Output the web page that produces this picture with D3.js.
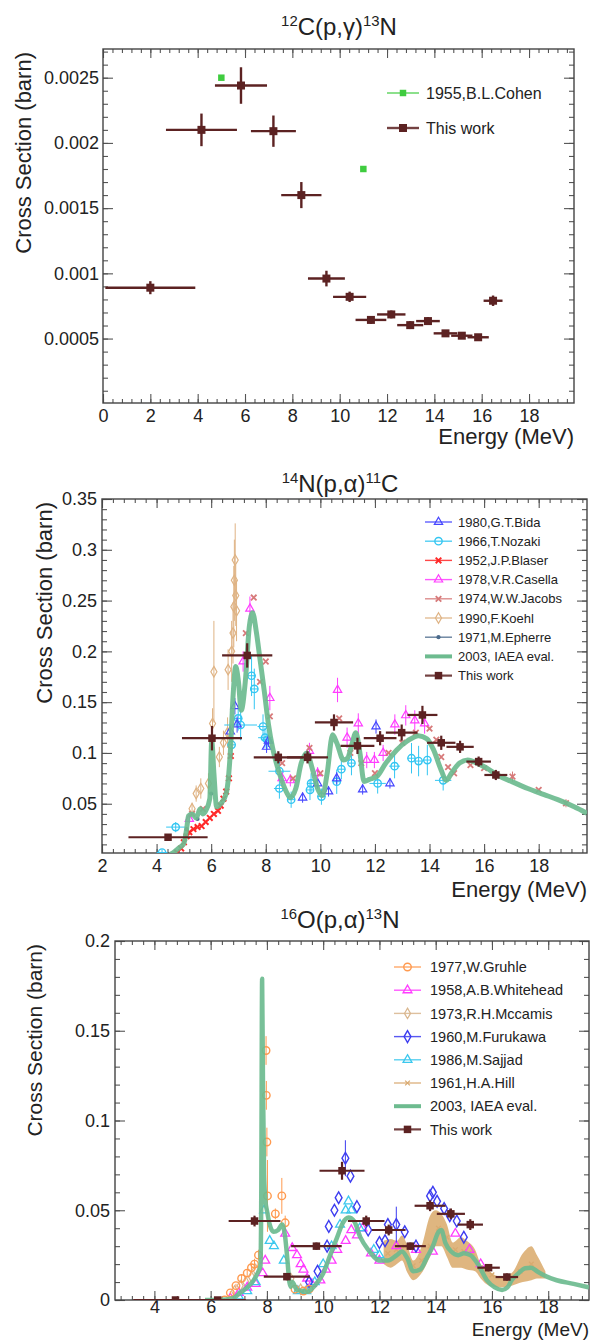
<!DOCTYPE html>
<html><head><meta charset="utf-8">
<script src="https://cdn.jsdelivr.net/npm/d3@7"></script>
<style>body{margin:0;background:#fff}svg{display:block}</style>
</head><body><svg id="c" width="590" height="1340"></svg>
<script>
// ---------------- DATA ----------------
// Panel 1: 12C(p,g)13N   [E, sigma, dE, dsigma]
const p1XTicks = [0,2,4,6,8,10,12,14,16,18];
const p1YTicks = [0.0005,0.001,0.0015,0.002,0.0025];
const p1Cohen = [[5.0,0.0025],[11.0,0.0018]];
const p1Work = [
 [2.0,0.00089,1.9,0.00005],[4.16,0.0021,1.5,0.000125],[5.83,0.00244,1.1,0.00014],
 [7.2,0.00209,0.95,0.00012],[8.38,0.0016,0.85,0.0001],[9.44,0.00096,0.78,0.00006],
 [10.42,0.00082,0.7,0.00004],[11.32,0.000643,0.65,0.00003],[12.18,0.000685,0.6,0.00003],
 [12.98,0.000603,0.55,0.00003],[13.73,0.000634,0.5,0.00003],[14.47,0.00054,0.5,0.00002],
 [15.16,0.000522,0.45,0.00002],[15.85,0.00051,0.45,0.00002],[16.48,0.00079,0.4,0.00004]];

// Panel 2: 14N(p,a)11C
const p2XTicks = [2,4,6,8,10,12,14,16,18];
const p2YTicks = [0.05,0.1,0.15,0.2,0.25,0.3,0.35];
const p2Bida = [[6.7,0.121,0,0.006],[6.87,0.146,0,0.008],[6.95,0.128,0,0.008],[8.03,0.106,0,0.006],[8.1,0.112,0,0.006],
 [9.35,0.056,0,0.005],[9.9,0.07,0,0.005],[10.3,0.062,0,0.005],[10.6,0.075,0,0.006],[11.55,0.064,0,0.005],
 [12.04,0.126,0,0.007],[12.55,0.07,0,0.005]];
const p2Nozaki = [[4.2,0.002,0.2,0.003],[4.7,0.027,0.35,0.005],[6.75,0.108,0.15,0.01],[6.99,0.134,0.15,0.012],
 [7.08,0.1275,0.6,0.015],[7.48,0.176,0.15,0.02],[7.58,0.163,0.15,0.02],[7.9,0.126,0.2,0.012],[7.97,0.115,0.25,0.01],
 [8.05,0.113,0.2,0.01],[8.5,0.082,0.4,0.01],[8.5,0.065,0.2,0.01],[8.93,0.054,0.15,0.008],[9.62,0.0636,0.15,0.01],
 [9.66,0.07,0.15,0.01],[10.04,0.057,0.15,0.008],[10.6,0.0717,0.15,0.012],[10.77,0.084,0.15,0.01],
 [11.14,0.09,0.15,0.012],[12.1,0.07,0.3,0.01],[12.72,0.087,0.2,0.012],[13.34,0.0948,0.15,0.015],
 [13.6,0.092,0.15,0.015],[13.92,0.093,0.15,0.015],[14.5,0.073,0.3,0.01]];
const p2Blaser = [[4.75,0.002],[4.9,0.006],[5.0,0.012],[5.1,0.018],[5.2,0.022],[5.35,0.025],[5.5,0.027],
 [5.65,0.028],[5.8,0.032],[5.95,0.036],[6.1,0.04],[6.25,0.043],[6.35,0.048],[6.45,0.055],[6.55,0.062],
 [6.65,0.075],[6.72,0.097]];
const p2Casella = [[5.2,0.035,0,0.004],[7.17,0.19,0,0.01],[7.42,0.242,0,0.012],[8.15,0.154,0,0.012],
 [8.6,0.075,0,0.006],[8.9,0.073,0,0.006],[9.6,0.102,0,0.008],[9.9,0.08,0,0.006],[10.63,0.162,0,0.012],
 [10.98,0.115,0,0.01],[11.39,0.129,0,0.01],[11.7,0.093,0,0.008],[11.98,0.093,0,0.008],[12.3,0.1,0,0.008],
 [12.73,0.128,0,0.01],[13.13,0.137,0,0.01],[13.46,0.132,0,0.01],[13.82,0.129,0,0.01]];
const p2Jacobs = [[5.3,0.04],[5.7,0.045],[7.27,0.218],[7.56,0.253],[7.79,0.17],[8.0,0.19],[8.15,0.136],
 [8.6,0.09],[9.0,0.075],[9.6,0.105],[10.0,0.08],[10.69,0.134],[11.1,0.1],[11.5,0.09],[12.0,0.08],
 [12.5,0.1],[13.0,0.11],[13.5,0.12],[14.0,0.124],[14.25,0.113],[14.43,0.096],[14.68,0.086],[14.9,0.08],
 [15.5,0.088],[16.0,0.085],[17.04,0.0767,0,0.005],[18.0,0.0636],[19.0,0.0505,0,0.004]];
const p2Koehl = [[5.3,0.045,0,0.006],[5.45,0.06,0,0.008],[5.62,0.065,0,0.01],[5.9,0.07,0,0.01],
 [6.05,0.129,0,0.015],[6.1,0.18,0,0.05],[6.3,0.096,0,0.01],[6.45,0.11,0,0.012],[6.6,0.12,0,0.015],
 [6.62,0.182,0,0.02],[6.75,0.2,0,0.03],[6.8,0.218,0,0.03],[6.83,0.244,0,0.04],[6.85,0.27,0,0.04],
 [6.88,0.29,0,0.036],[6.9,0.255,0,0.03],[6.93,0.24,0,0.03]];
const p2Epherre = [[5.1,0.025],[5.5,0.035],[6.0,0.06]];
const p2Iaea = [[4.5,0.0],[4.62,0.002],[4.8,0.006],[5.0,0.011],[5.1,0.025],[5.17,0.038],[5.3,0.04],
 [5.45,0.036],[5.6,0.045],[5.7,0.04],[5.8,0.043],[5.95,0.055],[6.02,0.112],[6.1,0.08],[6.2,0.047],
 [6.35,0.05],[6.55,0.06],[6.7,0.1],[6.8,0.155],[6.9,0.185],[7.0,0.17],[7.1,0.142],[7.25,0.17],[7.4,0.225],
 [7.52,0.238],[7.65,0.22],[7.8,0.19],[7.95,0.16],[8.1,0.128],[8.25,0.105],[8.5,0.08],[8.75,0.062],
 [8.9,0.056],[9.1,0.065],[9.3,0.09],[9.5,0.1],[9.7,0.085],[9.9,0.065],[10.08,0.058],[10.25,0.08],
 [10.45,0.118],[10.6,0.11],[10.85,0.093],[11.0,0.095],[11.15,0.108],[11.3,0.12],[11.45,0.1],[11.6,0.072],
 [11.8,0.074],[12.08,0.077],[12.4,0.09],[12.8,0.103],[13.2,0.112],[13.6,0.117],[13.9,0.114],[14.15,0.103],
 [14.4,0.085],[14.62,0.073],[14.8,0.08],[15.1,0.09],[15.4,0.093],[15.7,0.0905],[16.1,0.085],[16.5,0.078],
 [17.0,0.072],[17.6,0.065],[18.2,0.059],[18.7,0.054],[19.3,0.047],[19.77,0.0406]];
const p2Work = [[4.42,0.017,1.45,0.003],[6.03,0.1145,1.1,0.012],[7.32,0.196,0.92,0.012],
 [8.46,0.0957,0.9,0.006],[9.53,0.0957,0.75,0.006],[10.5,0.13,0.7,0.008],[11.36,0.107,0.62,0.008],
 [12.19,0.1145,0.6,0.007],[12.98,0.12,0.58,0.008],[13.74,0.1374,0.55,0.009],[14.43,0.11,0.52,0.007],
 [15.12,0.106,0.5,0.006],[15.8,0.0915,0.45,0.005],[16.43,0.0783,0.42,0.005]];

// Panel 3: 16O(p,a)13N
const p3XTicks = [4,6,8,10,12,14,16,18];
const p3YTicks = [0,0.05,0.1,0.15,0.2];
const p3Gruhle = [[6.5,0.0,0,0.001],[6.7,0.004,0,0.001],[6.9,0.008,0,0.001],[7.1,0.012,0,0.002],
 [7.3,0.015,0,0.002],[7.45,0.018,0,0.002],[7.56,0.02,0,0.003],[7.7,0.025,0,0.003],[7.97,0.139,0,0.008],
 [7.98,0.114,0,0.008],[8.0,0.088,0,0.008],[8.02,0.058,0,0.02],[8.3,0.048,0,0.003],[8.53,0.058,0,0.01],
 [8.65,0.043,0,0.004],[9.0,0.006,0,0.001],[9.3,0.005,0,0.001],[9.5,0.006,0,0.001]];
const p3Whitehead = [[6.7,0.001],[7.0,0.004],[7.3,0.007],[7.6,0.009],[7.85,0.015],[7.94,0.022],[8.65,0.037],
 [8.9,0.029],[9.07,0.025],[9.2,0.02],[9.3,0.017],[9.43,0.012],[9.6,0.009],[9.9,0.011],[10.1,0.017],
 [10.3,0.022],[10.5,0.028],[10.8,0.033],[11.0,0.039],[11.2,0.036],[11.4,0.04],[11.7,0.026],[12.0,0.022],
 [12.6,0.03],[13.3,0.028],[13.9,0.027],[14.7,0.037],[15.2,0.028],[15.6,0.02]];
const p3Mccamis = [[6.85,0.005],[7.05,0.008],[7.25,0.01],[7.45,0.013],[7.6,0.017],[8.85,0.012],[9.2,0.006]];
const p3Furukawa = [[9.5,0.01],[9.8,0.016],[10.14,0.03],[10.2,0.041],[10.4,0.05],[10.55,0.057],
 [10.79,0.079,0,0.01],[10.97,0.069],[11.2,0.052],[11.6,0.039],[12.0,0.032],[12.2,0.033],[12.3,0.042],
 [12.6,0.042,0,0.01],[12.9,0.038],[13.3,0.03],[13.8,0.058],[13.9,0.06],[14.05,0.055],[14.3,0.051],
 [14.5,0.047],[14.75,0.044],[15.0,0.035]];
const p3Sajjad = [[7.0,0.002],[7.3,0.005],[7.6,0.01],[7.9,0.05],[8.1,0.033],[8.25,0.03],[8.6,0.022],
 [9.1,0.005],[9.4,0.005],[9.7,0.01],[10.0,0.02],[10.3,0.03],[10.6,0.042],[10.8,0.05],[10.9,0.055],
 [11.0,0.05],[11.3,0.04],[11.8,0.028],[12.0,0.025]];
const p3Hill = [[12.3,0.026],[12.6,0.028],[12.9,0.03],[13.2,0.019],[13.5,0.022],[13.8,0.03],[14.1,0.04],
 [14.4,0.035],[14.7,0.028],[15.0,0.027],[15.3,0.026],[15.6,0.018],[16.0,0.014],[16.5,0.012],[17.0,0.016],
 [17.4,0.02],[17.8,0.014]];
const p3HillBand = [[12.15,0.02,0.033],[12.4,0.018,0.034],[12.62,0.02,0.033],[12.8,0.022,0.036],
 [13.0,0.015,0.03],[13.2,0.011,0.022],[13.5,0.015,0.03],[13.8,0.024,0.047],[14.0,0.03,0.05],
 [14.2,0.03,0.048],[14.4,0.024,0.042],[14.6,0.018,0.032],[14.9,0.018,0.035],[15.1,0.017,0.033],
 [15.4,0.016,0.028],[15.6,0.012,0.02],[15.9,0.008,0.016],[16.3,0.007,0.013],[16.7,0.008,0.015],
 [17.1,0.01,0.026],[17.4,0.011,0.03],[17.6,0.012,0.025],[17.9,0.012,0.016]];
const p3Iaea = [[5.8,0],[6.3,0],[6.8,0.001],[7.05,0.004],[7.3,0.007],[7.53,0.011],[7.7,0.016],[7.77,0.019],
 [7.8,0.06],[7.83,0.179],[7.86,0.12],[7.9,0.07],[7.95,0.055],[8.0,0.05],[8.1,0.042],[8.24,0.038],[8.4,0.039],
 [8.54,0.042],[8.65,0.035],[8.72,0.024],[8.8,0.01],[8.85,0.0074],[8.9,0.01],[9.07,0.0056],[9.25,0.005],
 [9.43,0.0046],[9.7,0.008],[10.0,0.0148],[10.25,0.025],[10.5,0.035],[10.7,0.043],[10.9,0.046],[11.1,0.044],
 [11.32,0.035],[11.6,0.028],[12.03,0.022],[12.3,0.022],[12.62,0.025],[12.8,0.027],[13.0,0.023],[13.2,0.016],
 [13.45,0.017],[13.7,0.024],[13.9,0.03],[14.1,0.038],[14.2,0.039],[14.34,0.032],[14.55,0.027],[14.8,0.025],
 [15.0,0.026],[15.23,0.025],[15.5,0.02],[15.82,0.011],[16.1,0.007],[16.36,0.0056],[16.55,0.007],[16.7,0.011],
 [16.95,0.015],[17.18,0.0177],[17.4,0.018],[17.6,0.016],[17.95,0.013],[18.3,0.011],[18.9,0.009],[19.45,0.007]];
const p3Work = [[4.75,0,1.5,0],[6.25,0,1.0,0],[7.56,0.044,0.92,0.003],[8.71,0.013,0.82,0.002],
 [9.76,0.03,0.9,0.002],[10.67,0.072,0.8,0.005],[11.53,0.044,0.65,0.003],[12.33,0.039,0.6,0.003],
 [13.1,0.03,0.55,0.002],[13.8,0.0525,0.55,0.003],[14.54,0.048,0.5,0.003],[15.23,0.042,0.45,0.003],
 [15.88,0.018,0.4,0.002],[16.53,0.0128,0.4,0.002]];

// ---------------- STYLE / DRAW ----------------
const FONT = "'Liberation Sans', Arial, Helvetica, sans-serif";
const WORK = "#5c2222", IAEA = "#6dbb8f";
const svg = d3.select("#c");
const defs = svg.append("defs");
const fmt = d3.format("~g");

const symMap = {square: d3.symbolSquare, circle: d3.symbolCircle, triangle: d3.symbolTriangle,
  diamond: d3.symbolDiamond, times: d3.symbolTimes || d3.symbolX};

function marker(g, st, cx, cy) {
  const p = g.append("path").attr("d", d3.symbol().type(symMap[st.shape]).size(st.size)())
    .attr("transform", `translate(${cx},${cy})`);
  if (st.open || st.shape === "times") p.attr("fill", "none").attr("stroke", st.color).attr("stroke-width", st.sw || 1.2);
  else p.attr("fill", st.color).attr("stroke", "none");
}

function drawSeries(g, x, y, data, st) {
  const eg = g.append("g").attr("stroke", st.color).attr("stroke-width", st.ew || 1).attr("opacity", st.op || 1);
  data.forEach(d => {
    const E = d[0], v = d[1], dE = d[2] || 0, dv = d[3] || 0;
    if (dE) eg.append("line").attr("x1", x(E - dE)).attr("x2", x(E + dE)).attr("y1", y(v)).attr("y2", y(v));
    if (dv) eg.append("line").attr("x1", x(E)).attr("x2", x(E)).attr("y1", y(v - dv)).attr("y2", y(v + dv));
  });
  const mg = g.append("g").attr("opacity", st.op || 1);
  data.forEach(d => marker(mg, st, x(d[0]), y(d[1])));
}

function drawCurve(g, x, y, data, w) {
  g.append("path").datum(data)
    .attr("d", d3.line().x(d => x(d[0])).y(d => y(d[1])).curve(d3.curveMonotoneX))
    .attr("fill", "none").attr("stroke", IAEA).attr("stroke-width", w).attr("stroke-opacity", 0.92)
    .attr("stroke-linejoin", "round");
}

function title(parts, cx, by, size) {
  const t = svg.append("text").attr("x", cx).attr("y", by).attr("text-anchor", "middle")
    .attr("font-family", FONT).attr("font-size", size).attr("fill", "#222");
  parts.forEach(p => {
    const s = t.append("tspan").text(p[0]);
    if (p[1]) s.attr("font-size", size * 0.62).attr("dy", -size * 0.38);
    else s.attr("dy", p[2] || 0);
  });
}

function drawPanel(c) {
  const x = d3.scaleLinear().domain(c.xd).range([c.L, c.R]);
  const y = d3.scaleLinear().domain(c.yd).range([c.B, c.T]);
  const g = svg.append("g");
  const xm = [], ym = [];
  for (let v = Math.ceil(c.xd[0] / c.xms - 1e-9) * c.xms; v <= c.xd[1] + 1e-9; v += c.xms) xm.push(+v.toFixed(6));
  for (let v = Math.ceil(c.yd[0] / c.yms - 1e-9) * c.yms; v <= c.yd[1] + 1e-12; v += c.yms) ym.push(+v.toFixed(7));
  function ax(fn, scale, tr, vals, size, lab, pad) {
    const a = fn(scale).tickValues(vals).tickSizeInner(-size).tickSizeOuter(0)
      .tickPadding(pad || 0).tickFormat(lab ? fmt : () => "");
    const s = g.append("g").attr("transform", tr).call(a);
    s.select(".domain").remove();
    s.selectAll("line").attr("stroke", "#555").attr("stroke-width", 1.1);
    s.selectAll("text").attr("font-family", FONT).attr("font-size", c.tf).attr("fill", "#222");
  }
  ax(d3.axisBottom, x, `translate(0,${c.B})`, xm, 4, false);
  ax(d3.axisBottom, x, `translate(0,${c.B})`, c.xt, 9, true, c.xpad);
  ax(d3.axisTop, x, `translate(0,${c.T})`, xm, 4, false);
  ax(d3.axisTop, x, `translate(0,${c.T})`, c.xt, 9, false);
  ax(d3.axisLeft, y, `translate(${c.L},0)`, ym, 5, false);
  ax(d3.axisLeft, y, `translate(${c.L},0)`, c.yt, 10, true, c.ypad);
  ax(d3.axisRight, y, `translate(${c.R},0)`, ym, 5, false);
  ax(d3.axisRight, y, `translate(${c.R},0)`, c.yt, 10, false);
  g.append("rect").attr("x", c.L).attr("y", c.T).attr("width", c.R - c.L).attr("height", c.B - c.T)
    .attr("fill", "none").attr("stroke", "#444").attr("stroke-width", 1.4);
  defs.append("clipPath").attr("id", c.id).append("rect")
    .attr("x", c.L).attr("y", c.T).attr("width", c.R - c.L).attr("height", c.B - c.T);
  const dg = svg.append("g").attr("clip-path", `url(#${c.id})`);
  svg.append("text").attr("transform", `translate(${c.yx},${c.T + 3}) rotate(-90)`).attr("text-anchor", "end")
    .attr("font-family", FONT).attr("font-size", c.af).attr("fill", "#222").text("Cross Section (barn)");
  svg.append("text").attr("x", c.R).attr("y", c.xy).attr("text-anchor", "end")
    .attr("font-family", FONT).attr("font-size", c.xf || c.af).attr("fill", "#222").text("Energy (MeV)");
  return {x, y, dg};
}

function legend(items, lx0, lx1, tx, y0, dy, fs) {
  const g = svg.append("g");
  items.forEach((it, i) => {
    const yy = y0 + i * dy;
    if (it.line) {
      g.append("line").attr("x1", lx0).attr("x2", lx1).attr("y1", yy).attr("y2", yy)
        .attr("stroke", IAEA).attr("stroke-width", 4);
    } else {
      g.append("line").attr("x1", lx0).attr("x2", lx1).attr("y1", yy).attr("y2", yy)
        .attr("stroke", it.st.color).attr("stroke-width", it.st.lw || 1.4).attr("opacity", 0.85);
      marker(g, it.st, (lx0 + lx1) / 2, yy);
    }
    g.append("text").attr("x", tx).attr("y", yy).attr("dy", "0.36em").attr("font-family", FONT)
      .attr("font-size", fs).attr("fill", "#222").text(it.label);
  });
}

// styles
const sWork = {shape: "square", color: WORK, size: 64, ew: 2.4, lw: 2.4};
const sWork2 = {shape: "square", color: WORK, size: 56, ew: 2.2, lw: 2.2};
const sCohen = {shape: "square", color: "#3fcc3f", size: 42};
const sBida = {shape: "triangle", color: "#4646ff", open: true, size: 30};
const sNozaki = {shape: "circle", color: "#33c6f2", open: true, size: 42, sw: 1.4};
const sBlaser = {shape: "times", color: "#ff2828", size: 22, sw: 2};
const sCasella = {shape: "triangle", color: "#ff3cff", open: true, size: 30};
const sJacobs = {shape: "times", color: "#d77a7a", size: 22, sw: 1.8};
const sKoehl = {shape: "diamond", color: "#dfb384", open: true, size: 32};
const sEpherre = {shape: "circle", color: "#4c6b8c", size: 14};
const sGruhle = {shape: "circle", color: "#ff9a4f", open: true, size: 44, sw: 1.4};
const sWhite = {shape: "triangle", color: "#ff3cff", open: true, size: 34, sw: 1.3};
const sMcc = {shape: "diamond", color: "#d9b68e", open: true, size: 32};
const sFuru = {shape: "diamond", color: "#3c3cf0", open: true, size: 40, sw: 1.4};
const sSaj = {shape: "triangle", color: "#3cc8ee", open: true, size: 34, sw: 1.3};
const sHill = {shape: "times", color: "#d9aa70", size: 16, sw: 1.3};

// ---------- Panel 1 ----------
title([["12",1],["C(p,γ)",0,9],["13",1],["N",0,9]], 339, 35, 24);
const P1 = drawPanel({id: "cp1", L: 103, R: 574, T: 49, B: 403, xd: [0, 19.9], yd: [0.000006, 0.00272],
  xt: p1XTicks, yt: p1YTicks, xms: 0.4, yms: 0.0001, tf: 18, af: 22, xpad: 6, ypad: 4, yx: 31, xy: 444});
drawSeries(P1.dg, P1.x, P1.y, p1Cohen, sCohen);
drawSeries(P1.dg, P1.x, P1.y, p1Work, sWork);
legend([{st: sCohen, label: "1955,B.L.Cohen"}, {st: sWork, label: "This work"}], 387, 419, 426, 93, 35, 16);

// ---------- Panel 2 ----------
title([["14",1],["N(p,α)",0,9],["11",1],["C",0,9]], 340, 492, 24);
const P2 = drawPanel({id: "cp2", L: 102, R: 587, T: 499, B: 853, xd: [2, 19.77], yd: [0.0015, 0.35],
  xt: p2XTicks, yt: p2YTicks, xms: 0.4, yms: 0.01, tf: 18, af: 22, xpad: 6, ypad: 5, yx: 52, xy: 897});
drawSeries(P2.dg, P2.x, P2.y, p2Koehl, sKoehl);
drawSeries(P2.dg, P2.x, P2.y, p2Epherre, sEpherre);
drawSeries(P2.dg, P2.x, P2.y, p2Blaser, sBlaser);
drawSeries(P2.dg, P2.x, P2.y, p2Nozaki, sNozaki);
drawSeries(P2.dg, P2.x, P2.y, p2Bida, sBida);
drawSeries(P2.dg, P2.x, P2.y, p2Casella, sCasella);
drawSeries(P2.dg, P2.x, P2.y, p2Jacobs, sJacobs);
drawCurve(P2.dg, P2.x, P2.y, p2Iaea, 5);
drawSeries(P2.dg, P2.x, P2.y, p2Work, sWork2);
legend([{st: sBida, label: "1980,G.T.Bida"}, {st: sNozaki, label: "1966,T.Nozaki"},
  {st: sBlaser, label: "1952,J.P.Blaser"}, {st: sCasella, label: "1978,V.R.Casella"},
  {st: sJacobs, label: "1974,W.W.Jacobs"}, {st: sKoehl, label: "1990,F.Koehl"},
  {st: sEpherre, label: "1971,M.Epherre"}, {line: true, label: "2003, IAEA eval."},
  {st: sWork2, label: "This work"}], 425, 452, 458, 522, 19.2, 13);

// ---------- Panel 3 ----------
title([["16",1],["O(p,α)",0,9],["13",1],["N",0,9]], 340, 928, 24);
const P3 = drawPanel({id: "cp3", L: 115, R: 589, T: 941, B: 1300, xd: [2.6, 19.45], yd: [0, 0.2],
  xt: p3XTicks, yt: p3YTicks, xms: 0.4, yms: 0.01, tf: 18, af: 21, xf: 19, xpad: 0, ypad: 5, yx: 42, xy: 1336});
P3.dg.append("path").datum(p3HillBand)
  .attr("d", d3.area().x(d => P3.x(d[0])).y0(d => P3.y(d[1])).y1(d => P3.y(d[2])).curve(d3.curveMonotoneX))
  .attr("fill", "#dcae72").attr("opacity", 0.9);
drawSeries(P3.dg, P3.x, P3.y, p3Hill, sHill);
drawSeries(P3.dg, P3.x, P3.y, p3Mccamis, sMcc);
drawSeries(P3.dg, P3.x, P3.y, p3Whitehead, sWhite);
drawSeries(P3.dg, P3.x, P3.y, p3Sajjad, sSaj);
drawSeries(P3.dg, P3.x, P3.y, p3Furukawa, sFuru);
drawSeries(P3.dg, P3.x, P3.y, p3Gruhle, sGruhle);
drawCurve(P3.dg, P3.x, P3.y, p3Iaea, 4.5);
drawSeries(P3.dg, P3.x, P3.y, p3Work, sWork2);
legend([{st: sGruhle, label: "1977,W.Gruhle"}, {st: sWhite, label: "1958,A.B.Whitehead"},
  {st: sMcc, label: "1973,R.H.Mccamis"}, {st: sFuru, label: "1960,M.Furukawa"},
  {st: sSaj, label: "1986,M.Sajjad"}, {st: sHill, label: "1961,H.A.Hill"},
  {line: true, label: "2003, IAEA eval."}, {st: sWork2, label: "This work"}], 394, 421, 430, 967, 23.2, 14.5);
</script></body></html>
